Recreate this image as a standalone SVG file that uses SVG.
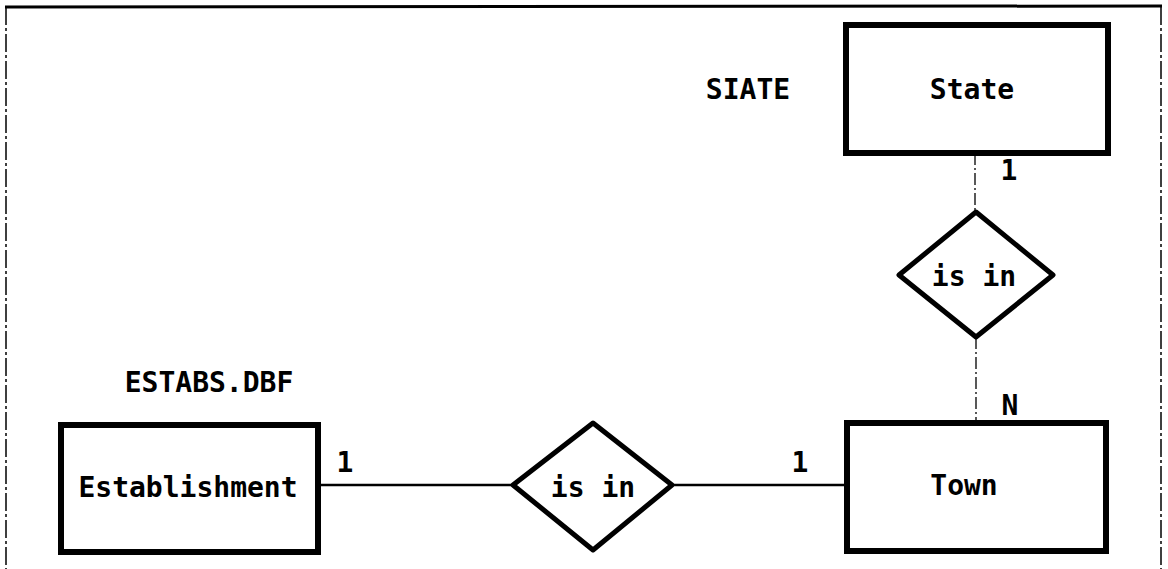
<svg xmlns="http://www.w3.org/2000/svg" width="1168" height="569" viewBox="0 0 1168 569">
  <style>
    .entity { fill: #fff; stroke: #000; stroke-width: 6; }
    .rel { fill: #fff; stroke: #000; stroke-width: 5; stroke-linejoin: round; }
    .label { font-family: "DejaVu Sans Mono", "Liberation Mono", monospace; font-weight: bold; font-size: 28px; fill: #000; }
    .mid { text-anchor: middle; dominant-baseline: central; }
    .solid { stroke: #000; stroke-width: 2.5; fill: none; }
    .dashed { stroke: #000; stroke-width: 1.3; fill: none; stroke-dasharray: 12 3 2 3; }
    .frame { stroke: #000; fill: none; }
  </style>

  <rect width="1168" height="569" fill="#fff"/>

  <!-- frame -->
  <g id="frame">
    <line class="frame" x1="5" y1="7" x2="1162" y2="6" stroke-width="3"/>
    <line class="frame" x1="6" y1="7" x2="6" y2="569" stroke-width="1.5" stroke-dasharray="18 3 3 3"/>
    <line class="frame" x1="1161" y1="7" x2="1161" y2="569" stroke-width="1.5" stroke-dasharray="18 3 3 3"/>
  </g>

  <!-- connectors -->
  <g id="connectors">
    <line class="solid" x1="318" y1="485" x2="513" y2="485"/>
    <line class="solid" x1="672" y1="485" x2="847" y2="485"/>
    <line class="dashed" x1="975" y1="153" x2="975" y2="212"/>
    <line class="dashed" x1="976" y1="337" x2="976" y2="423"/>
  </g>

  <!-- cardinalities -->
  <g id="cardinalities">
    <text class="label mid" x="345" y="462">1</text>
    <text class="label mid" x="800" y="462">1</text>
    <text class="label mid" x="1009" y="170">1</text>
    <text class="label mid" x="1010" y="405">N</text>
  </g>

  <g id="state">
    <text class="label mid" x="748" y="89">SIATE</text>
    <rect class="entity" x="846" y="25" width="262" height="128"/>
    <text class="label mid" x="972" y="89">State</text>
  </g>

  <g id="state-is-in">
    <polygon class="rel" points="976,212 1053,275 976,337 899,275"/>
    <text class="label mid" x="974" y="276">is in</text>
  </g>

  <g id="town">
    <rect class="entity" x="847" y="423" width="259" height="128"/>
    <text class="label mid" x="964" y="485">Town</text>
  </g>

  <g id="establishment">
    <text class="label mid" x="209" y="382">ESTABS.DBF</text>
    <rect class="entity" x="61" y="425" width="257" height="127"/>
    <text class="label mid" x="188" y="487">Establishment</text>
  </g>

  <g id="establishment-is-in">
    <polygon class="rel" points="593,423 672,485 593,550 513,485"/>
    <text class="label mid" x="593" y="487">is in</text>
  </g>
</svg>
